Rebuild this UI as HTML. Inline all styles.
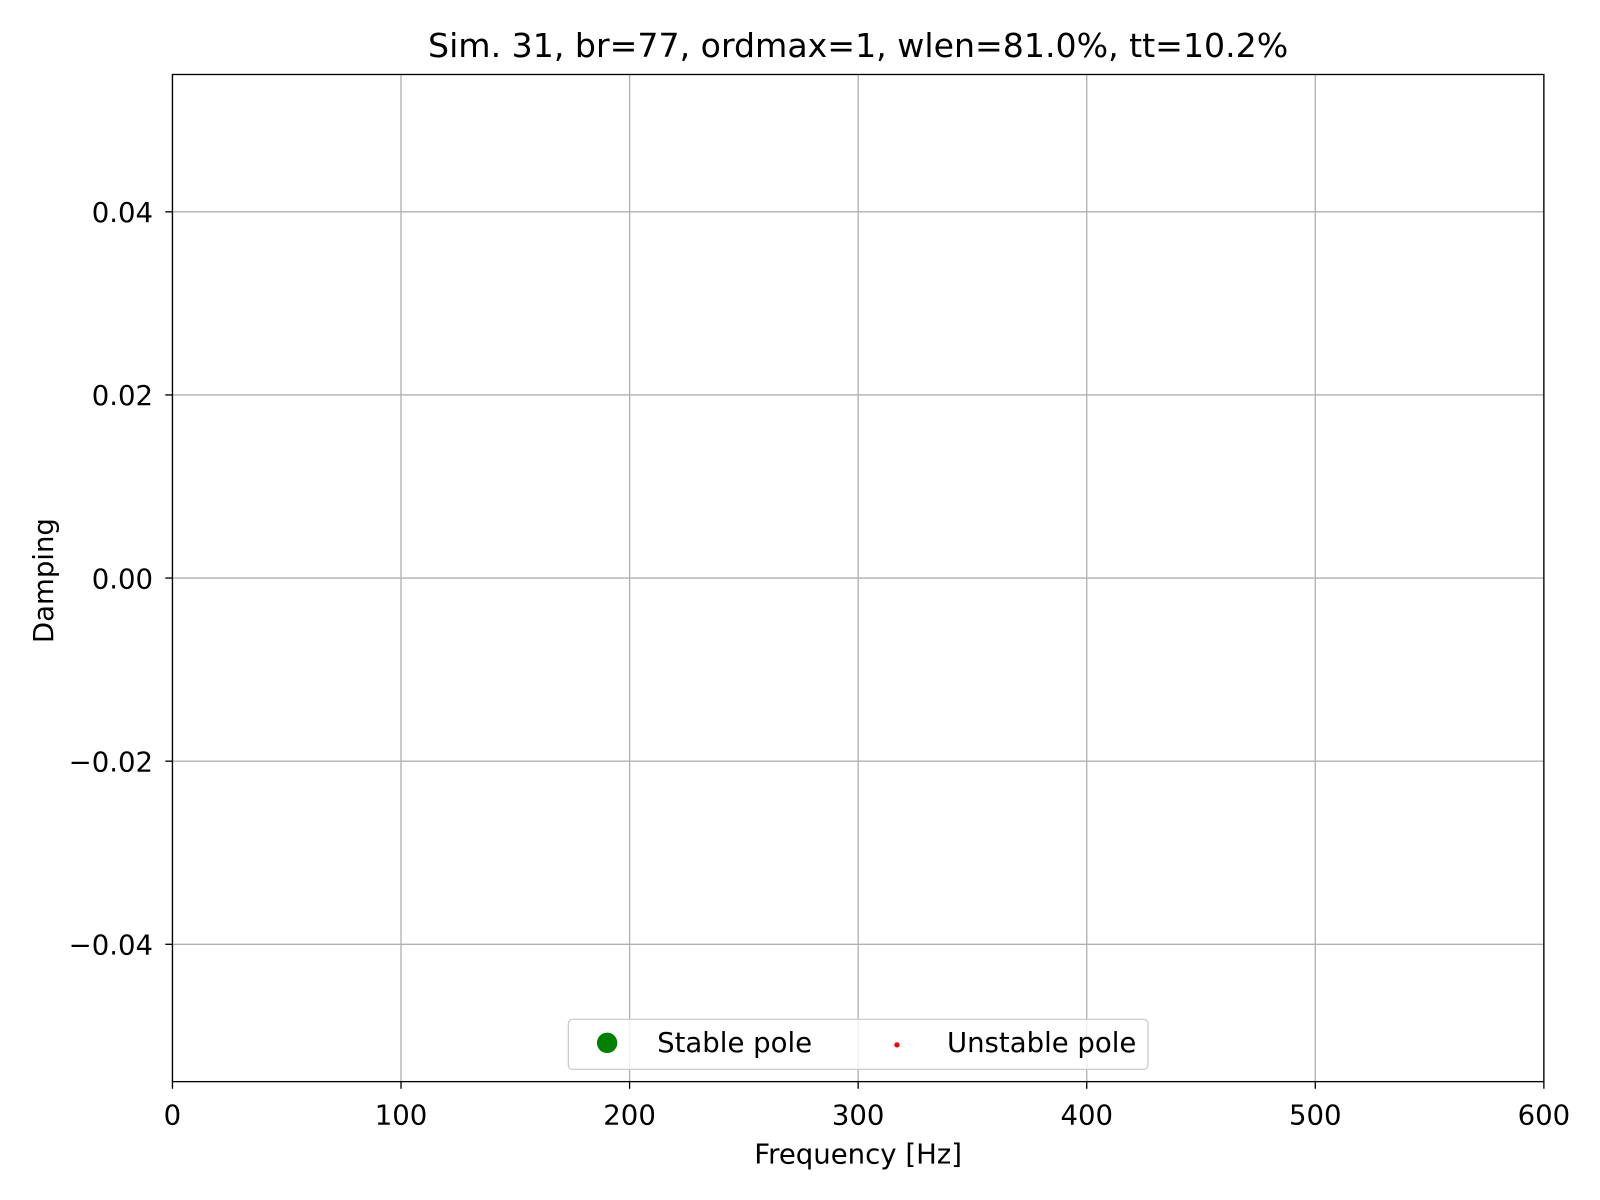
<!DOCTYPE html>
<html><head><meta charset="utf-8"><style>
html,body{margin:0;padding:0;background:#fff}
svg{display:block;font-family:"DejaVu Sans","Liberation Sans",sans-serif}
</style></head><body>
<svg id="chart" width="1600" height="1200" viewBox="0 0 1568 1176" xmlns="http://www.w3.org/2000/svg">
<rect width="1568" height="1176" fill="#fff"/>
<text x="841" y="56" font-size="32.5" text-anchor="middle" fill="#000">Sim. 31, br=77, ordmax=1, wlen=81.0%, tt=10.2%</text>
<g id="grid"></g>
<g id="marks"></g>
<rect x="169" y="73" width="1344" height="987" fill="none" stroke="#000" stroke-width="1.3"/>
<g id="ticks"></g>
<text x="841" y="1140" font-size="27" text-anchor="middle">Frequency [Hz]</text>
<text transform="translate(52,569) rotate(-90)" font-size="27" text-anchor="middle">Damping</text>
<g>
<rect x="557" y="999" width="568" height="49" rx="4" fill="#fff" fill-opacity="0.8" stroke="#ccc" stroke-width="1.3"/>
<circle cx="595" cy="1022" r="10" fill="green"/>
<text x="644" y="1031" font-size="27">Stable pole</text>
<circle cx="879" cy="1024" r="2.6" fill="red"/>
<text x="928" y="1031" font-size="27">Unstable pole</text>
</g>
</svg>
<script>
const xTicks = [0,100,200,300,400,500,600];
const yTicks = [-0.04,-0.02,0.00,0.02,0.04];
const yTickLabels = ["\u22120.04","\u22120.02","0.00","0.02","0.04"];
const stableFreq = [];
const stableDamp = [];
const unstableFreq = [];
const unstableDamp = [];
const X0=169,X1=1513,Y0=73,Y1=1060,xmin=0,xmax=600,ymin=-0.055,ymax=0.055;
function sx(v){return X0+(v-xmin)/(xmax-xmin)*(X1-X0);}
function sy(v){return Y1-(v-ymin)/(ymax-ymin)*(Y1-Y0);}
const NS="http://www.w3.org/2000/svg";
const grid=document.getElementById('grid'),ticks=document.getElementById('ticks'),marks=document.getElementById('marks');
function mk(t,a,p){const e=document.createElementNS(NS,t);for(const k in a)e.setAttribute(k,a[k]);p.appendChild(e);return e;}
xTicks.forEach(v=>{
  const x=sx(v);
  const g=mk('line',{x1:x,x2:x,y1:Y0,y2:Y1,stroke:'#b0b0b0','stroke-width':1.3},grid);
  
  
  const t=mk('line',{x1:x,x2:x,y1:Y1,y2:Y1+7,stroke:'#000','stroke-width':1.3},ticks);
  
  
  const l=mk('text',{x:x,y:Y1+42,'font-size':27,'text-anchor':'middle'},ticks);
  l.textContent=String(v);
  
  
});
yTicks.forEach((v,i)=>{
  const y=sy(v);
  const g=mk('line',{x1:X0,x2:X1,y1:y,y2:y,stroke:'#b0b0b0','stroke-width':1.3},grid);
  
  
  const t=mk('line',{x1:X0-7,x2:X0,y1:y,y2:y,stroke:'#000','stroke-width':1.3},ticks);
  
  
  const l=mk('text',{x:X0-19,y:y+10,'font-size':27,'text-anchor':'end'},ticks);
  l.textContent=yTickLabels[i];
  
  
});
stableFreq.forEach((f,i)=>{
  const c=mk('circle',{cx:sx(f),cy:sy(stableDamp[i]),r:10,fill:'green'},marks);
  
  
});
unstableFreq.forEach((f,i)=>{
  const c=mk('circle',{cx:sx(f),cy:sy(unstableDamp[i]),r:2.6,fill:'red'},marks);
  
  
});
</script>
</body></html>
